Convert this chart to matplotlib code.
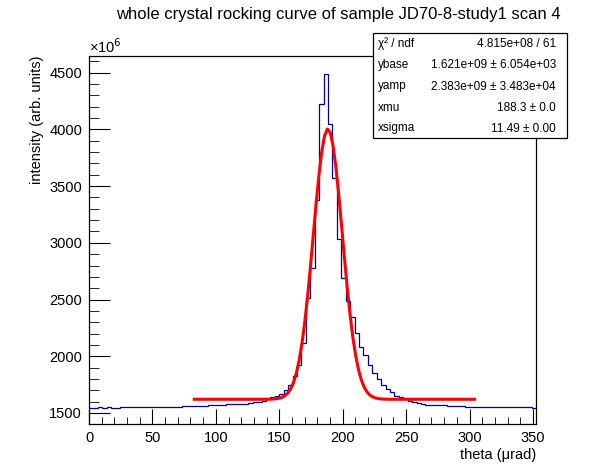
import numpy as np
import matplotlib
matplotlib.use('Agg')
import matplotlib.pyplot as plt
from matplotlib.patches import Rectangle

plt.rcParams['font.family'] = ['Liberation Sans', 'DejaVu Sans']

# histogram: 101 bins from 0 to 352.4 urad, contents in units of 1e6
X_LOW = 0.0
X_HIGH = 352.4
COUNTS = [
    1541, 1541, 1550, 1541, 1550, 1541, 1541, 1550, 1550, 1550,
    1550, 1550, 1550, 1550, 1550, 1550, 1550, 1550, 1552, 1553,
    1553, 1562, 1562, 1562, 1562, 1562, 1562, 1570, 1570, 1570,
    1570, 1579, 1579, 1579, 1579, 1579, 1588, 1597, 1597, 1608,
    1620, 1638, 1652, 1670, 1703, 1746, 1822, 1923, 2114, 2511,
    2776, 3378, 4221, 4486, 4045, 3569, 3031, 2687, 2490, 2344,
    2203, 2079, 2009, 1920, 1850, 1800, 1747, 1712, 1682, 1650,
    1638, 1623, 1606, 1594, 1588, 1579, 1570, 1570, 1570, 1570,
    1570, 1562, 1562, 1562, 1562, 1553, 1553, 1553, 1553, 1553,
    1553, 1553, 1553, 1553, 1553, 1553, 1553, 1553, 1553, 1553,
    1541,
]

# fit result (gaus + constant), amplitudes in units of 1e6
YBASE = 1621.0
YAMP = 2383.0
XMU = 188.3
XSIGMA = 11.49
FIT_RANGE = (83.0, 304.0)

STAT_LABELS = ['\u03c7\u00b2 / ndf', 'ybase', 'yamp', 'xmu', 'xsigma']
STAT_VALUES = ['4.815e+08 / 61', '1.621e+09 \u00b1 6.054e+03',
               '2.383e+09 \u00b1 3.483e+04', '188.3 \u00b1 0.0',
               '11.49 \u00b1 0.00']

TITLE = 'whole crystal rocking curve of sample JD70-8-study1 scan 4'

W, H = 596, 472


def main():
    fig = plt.figure(figsize=(W / 100, H / 100), dpi=100)
    ax = fig.add_axes([89 / W, 1 - 424 / H, (536 - 89) / W, (424 - 56) / H])

    edges = np.linspace(X_LOW, X_HIGH, len(COUNTS) + 1)
    ax.stairs(COUNTS, edges, baseline=None, color='#000099', lw=0.9)

    # fitted function drawn with 100 points like TF1
    xf = np.linspace(FIT_RANGE[0], FIT_RANGE[1], 100)
    yf = YBASE + YAMP * np.exp(-0.5 * ((xf - XMU) / XSIGMA) ** 2)
    ax.plot(xf, yf, color='red', lw=2.2)

    ax.set_xlim(X_LOW, X_HIGH)
    ax.set_ylim(1403, 4647)
    ax.set_xticks(np.arange(0, 351, 50))
    ax.set_xticks(np.arange(0, 352, 10), minor=True)
    ax.set_yticks(np.arange(1500, 4501, 500))
    ax.set_yticks(np.arange(1500, 4601, 100), minor=True)
    ax.tick_params(which='both', direction='in', top=False, right=False,
                   labelsize=10.5, color='black')
    ax.tick_params(axis='x', which='major', length=10.5, pad=5)
    ax.tick_params(axis='x', which='minor', length=5)
    ax.tick_params(axis='y', which='major', length=15, pad=5)
    ax.tick_params(axis='y', which='minor', length=7)
    for sp in ax.spines.values():
        sp.set_linewidth(0.9)

    ax.set_xlabel('theta (\u03bcrad)', fontsize=10.5, loc='right', labelpad=2)
    ax.set_ylabel('intensity (arb. units)', fontsize=10.5, loc='top',
                  labelpad=4)
    fig.text(89 / W, 1 - 47 / H, '\u00d710$^{6}$', fontsize=10.5,
             ha='left', va='center')
    fig.text(338 / W, 1 - 14 / H, TITLE, fontsize=12,
             ha='center', va='center')

    # stats box
    box = Rectangle((373 / W, 1 - 138 / H), 194 / W, 105 / H,
                    transform=fig.transFigure, facecolor='white',
                    edgecolor='black', lw=0.9, zorder=5)
    fig.patches.append(box)
    rows_y = [44, 65, 86.5, 108, 128.5]
    for lab, val, yy in zip(STAT_LABELS, STAT_VALUES, rows_y):
        fig.text(378 / W, 1 - yy / H, lab, fontsize=8.5, ha='left',
                 va='center', zorder=6)
        fig.text(556 / W, 1 - yy / H, val, fontsize=8.5, ha='right',
                 va='center', zorder=6)

    fig.savefig('out.png', dpi=100)


if __name__ == '__main__':
    main()
